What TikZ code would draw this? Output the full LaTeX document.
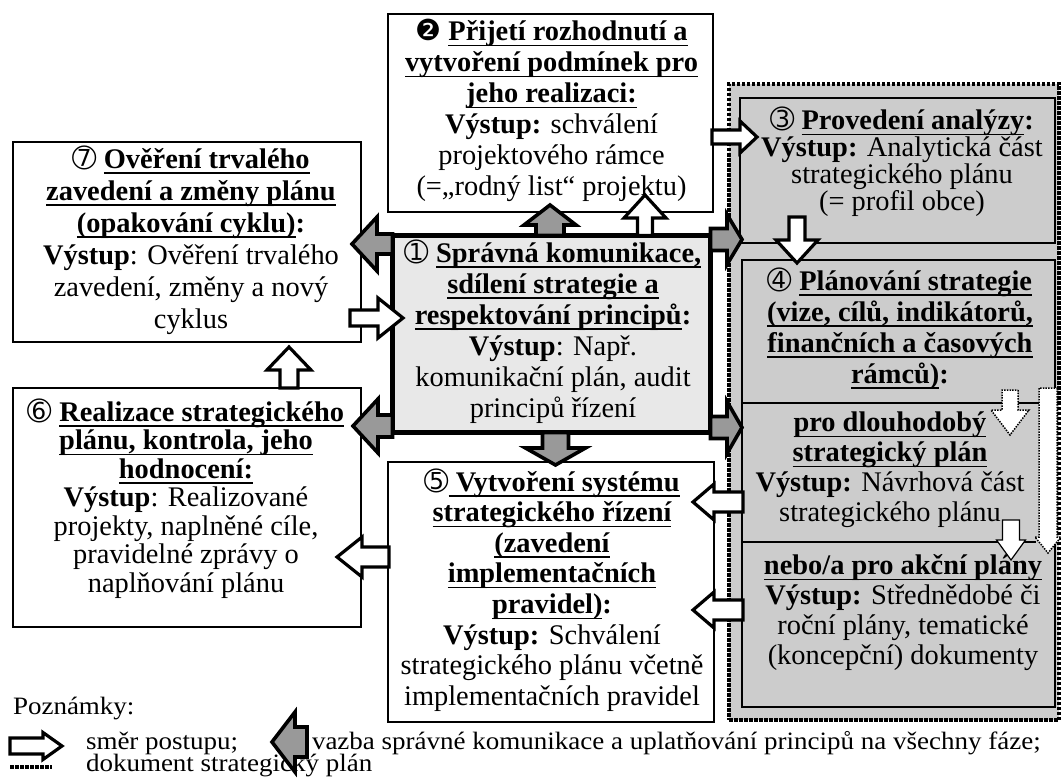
\documentclass[tikz,border=0pt]{standalone}
\usepackage{fontspec}
\setmainfont{Liberation Serif}
\newfontfamily\dgf{DejaVu Sans}
\newfontfamily\legendfont[FakeStretch=1.08]{Liberation Serif}
\usetikzlibrary{calc}
\definecolor{boxgray}{gray}{0.80}
\definecolor{centergray}{gray}{0.91}
\definecolor{arrgray}{gray}{0.60}
\newsavebox\ulbox
\newcommand\uline[1]{\sbox\ulbox{#1}\rlap{\rule[-5.5pt]{\wd\ulbox}{1.4pt}}\usebox\ulbox}
\newcommand\cdig[1]{{\dgf\fontsize{29}{29}\selectfont #1}}
\newcommand\mfs[1]{\fontsize{28.4}{#1}\selectfont}
\newcommand\BArrow[6]{%
  \path let \p1=#2, \p2=#3 in \pgfextra{%
    \pgfmathsetmacro\BAtmpa{atan2(\y2-\y1,\x2-\x1)}%
    \pgfmathsetmacro\BAtmpl{veclen(\x2-\x1,\y2-\y1)}%
    \global\let\BAang\BAtmpa \global\let\BAlen\BAtmpl
    \xdef\BAx{\x1}\xdef\BAy{\y1}};
  \begin{scope}[shift={(\BAx,\BAy)}, rotate=\BAang]
    \draw[#1] (0,-#4) -- ({\BAlen-#6},-#4) -- ({\BAlen-#6},-#5) -- (\BAlen,0)
      -- ({\BAlen-#6},#5) -- ({\BAlen-#6},#4) -- (0,#4) -- cycle;
  \end{scope}}
\tikzset{
  box/.style={draw, line width=1.4pt, inner sep=0, outer sep=0, anchor=north west},
  txt/.style={align=center, inner sep=0, outer sep=0},
  whitearrow/.style={draw, fill=white, line width=3.2pt, line join=miter},
  grayarrow/.style={draw, fill=arrgray, line width=3.6pt, line join=miter},
  dotarrow/.style={draw, fill=white, line width=1.5pt, dash pattern=on 1.5pt off 1.2pt},
  thinarrow/.style={draw, fill=white, line width=1.2pt},
  docborder/.style={draw, line width=4.5pt, dash pattern=on 3.5pt off 1.5pt},
  legendtxt/.style={anchor=west, inner sep=0, outer sep=0, font=\legendfont\fontsize{25}{27}\selectfont}
}
\begin{document}
\begin{tikzpicture}[x=1pt,y=-1pt]
\fill[white] (0,0) rectangle (1061,778);
\useasboundingbox (0,0) rectangle (1061,778);
\begin{scope}
\clip (0,0) rectangle (1061,778);
% strategic plan document region
\node[docborder, fill=boxgray, anchor=north west, inner sep=0, outer sep=0,
      minimum width=330pt, minimum height=636pt] (doc) at (729,84) {};
\node[box, fill=boxgray, minimum width=315pt, minimum height=145pt] (b3) at (740,98) {};
\node[box, fill=boxgray, minimum width=313pt, minimum height=447pt] (b4) at (742,260) {};
\draw[line width=2.5pt] ($(b4.north west)+(0,143)$) -- ($(b4.north east)+(0,143)$);
\draw[line width=1.6pt] ($(b4.north west)+(0,282)$) -- ($(b4.north west)+(294,282)$);
% other boxes
\node[box, minimum width=325pt, minimum height=198pt] (b2) at (388,14) {};
\node[box, minimum width=348pt, minimum height=200pt] (b7) at (13,142) {};
\node[box, minimum width=348pt, minimum height=239pt] (b6) at (13,388) {};
\node[box, minimum width=326pt, minimum height=260pt] (b5) at (388,462) {};
\node[box, fill=centergray, line width=5pt, minimum width=318pt, minimum height=197pt] (b1) at (392.5,235.5) {};
% texts
\node[txt, font=\mfs{31}] (t2) at (551.5,110.5) {\cdig{❷} \textbf{\uline{Přijetí rozhodnutí a}}\\
\textbf{\uline{vytvoření podmínek pro}}\\
\textbf{\uline{jeho realizaci:}}\\
\textbf{Výstup:} schválení\\
projektového rámce\\
(=„rodný list“ projektu)};
\node[txt, font=\mfs{32}] (t7) at (191,240) {\cdig{➆} \textbf{\uline{Ověření trvalého}}\\
\textbf{\uline{zavedení a změny plánu}}\\
\textbf{\uline{(opakování cyklu)}:}\\
\textbf{Výstup}: Ověření trvalého\\
zavedení, změny a nový\\
cyklus};
\node[txt, font=\mfs{31}] (t1) at (553,331.5) {\cdig{➀} \textbf{\uline{Správná komunikace,}}\\
\textbf{\uline{sdílení strategie a}}\\
\textbf{\uline{respektování principů}:}\\
\textbf{Výstup}: Např.\\
komunikační plán, audit\\
principů řízení};
\node[txt, font=\mfs{28.5}] (t6) at (186,498.5) {\cdig{➅} \textbf{\uline{Realizace strategického}}\\
\textbf{\uline{plánu, kontrola, jeho}}\\
\textbf{\uline{hodnocení:}}\\
\textbf{Výstup}: Realizované\\
projekty, naplněné cíle,\\
pravidelné zprávy o\\
naplňování plánu};
\node[txt, font=\mfs{30.6}] (t5) at (552,590) {\cdig{➄}\textbf{\uline{ Vytvoření systému}}\\
\textbf{\uline{strategického řízení}}\\
\textbf{\uline{(zavedení}}\\
\textbf{\uline{implementačních}}\\
\textbf{\uline{pravidel)}:}\\
\textbf{Výstup:} Schválení\\
strategického plánu včetně\\
implementačních pravidel};
\node[txt, font=\mfs{27}] (t3) at (902,162) {\cdig{➂} \textbf{\uline{Provedení analýzy}:}\\
\textbf{Výstup:} Analytická část\\
strategického plánu\\
(= profil obce)};
\node[txt, font=\mfs{31}] (t4a) at (900,328.5) {\cdig{➃} \textbf{\uline{Plánování strategie}}\\
\textbf{\uline{(vize, cílů, indikátorů,}}\\
\textbf{\uline{finančních a časových}}\\
\textbf{\uline{rámců)}:}};
\node[txt, font=\mfs{30}] (t4b) at (890,470) {\textbf{\uline{pro dlouhodobý}}\\
\textbf{\uline{strategický plán}}\\
\textbf{Výstup:} Návrhová část\\
strategického plánu};
\node[txt, font=\mfs{30}] (t4c) at (903,612.5) {\textbf{\uline{nebo/a pro akční plány}}\\
\textbf{Výstup:} Střednědobé či\\
roční plány, tematické\\
(koncepční) dokumenty};
% arrow end coordinates
\coordinate (g1) at ($(b1.north west)+(0,8.5)$);
\coordinate (g2) at ($(b1.south west)+(0,-6.5)$);
\coordinate (g3) at ($(b1.north east)+(0,4)$);
\coordinate (g4) at ($(b1.south east)+(0,-5)$);
\coordinate (g5) at ($(b1.north)+(-1.5,0)$);
\coordinate (g6) at ($(b1.south)+(4,0)$);
\coordinate (w1) at ($(b2.east)+(-1,24)$);
\coordinate (w2) at ($(b3.south west)+(57,-26)$);
\coordinate (w3) at ($(b1.north)+(93.5,0)$);
\coordinate (w4) at ($(b7.east)+(-11,76)$);
\coordinate (w5) at ($(b6.north)+(102,0)$);
\coordinate (w6) at ($(b5.west)+(1,-35)$);
\coordinate (w7) at ($(b4.north west)+(1,242)$);
\coordinate (w8) at ($(b4.north west)+(1,350)$);
\coordinate (d1) at ($(b4.north west)+(268,130)$);
\coordinate (d2) at ($(b4.north west)+(306,128)$);
\coordinate (s1) at ($(b4.north west)+(269,260)$);
% gray arrows: communication links
\BArrow{grayarrow}{(g1)}{($(b7.east|-g1)+(-9,0)$)}{10}{27}{25}
\BArrow{grayarrow}{(g2)}{($(b6.east|-g2)+(-8,0)$)}{11}{27}{25}
\BArrow{grayarrow}{(g3)}{(b4.west|-g3)}{11}{25}{15}
\BArrow{grayarrow}{(g4)}{(b4.west|-g4)}{11}{26}{15}
\BArrow{grayarrow}{(g5)}{($(g5|-b2.south)+(0,-7)$)}{14}{26}{20}
\BArrow{grayarrow}{(g6)}{($(g6|-b5.north)+(0,3)$)}{13}{30}{17}
% white arrows: process flow
\BArrow{whitearrow}{(w1)}{($(b3.west|-w1)+(17,0)$)}{7}{16}{17}
\BArrow{whitearrow}{(w2)}{($(w2|-b4.north)+(0,3)$)}{8}{21}{23}
\BArrow{whitearrow}{(w3)}{($(w3|-b2.south)+(0,-17)$)}{7.5}{21}{23}
\BArrow{whitearrow}{(w4)}{($(b1.west|-w4)+(10.5,0)$)}{8}{20}{25}
\BArrow{whitearrow}{(w5)}{($(w5|-b7.south)+(0,5)$)}{9}{22}{23}
\BArrow{whitearrow}{(w6)}{($(b6.east|-w6)+(-24,0)$)}{10}{20}{25}
\BArrow{whitearrow}{(w7)}{($(b5.east|-w7)+(-21,0)$)}{10}{18}{21}
\BArrow{whitearrow}{(w8)}{($(b5.east|-w8)+(-21,0)$)}{10}{18}{21}
% arrows inside plan document
\BArrow{dotarrow}{(d1)}{($(d1)+(0,45)$)}{8}{19}{25}
\BArrow{dotarrow}{(d2)}{($(d2)+(0,165)$)}{9}{13}{16}
\BArrow{thinarrow}{(s1)}{($(s1)+(0,40)$)}{8.5}{14.5}{20}
% legend
\node[legendtxt] (lg1) at (13,709) {Poznámky:};
\node[legendtxt] (lt1) at (86,743) {směr postupu;};
\node[legendtxt] (lt2) at (312,743) {vazba správné komunikace a uplatňování principů na všechny fáze;};
\node[legendtxt] (lt3) at (86,766) {dokument strategický plán};
\coordinate (lw) at ($(lg1.west)+(-3,37)$);
\coordinate (lgr) at ($(lt2.west)+(-5,-1)$);
\coordinate (ld) at ($(lt3.west)+(-76,1)$);
\BArrow{whitearrow}{(lw)}{($(lw)+(52,0)$)}{8}{13.5}{19}
\BArrow{grayarrow}{(lgr)}{($(lgr)+(-35,0)$)}{15}{30}{23}
\draw[docborder] (ld) -- ($(ld)+(42,0)$);
\end{scope}
\end{tikzpicture}
\end{document}
